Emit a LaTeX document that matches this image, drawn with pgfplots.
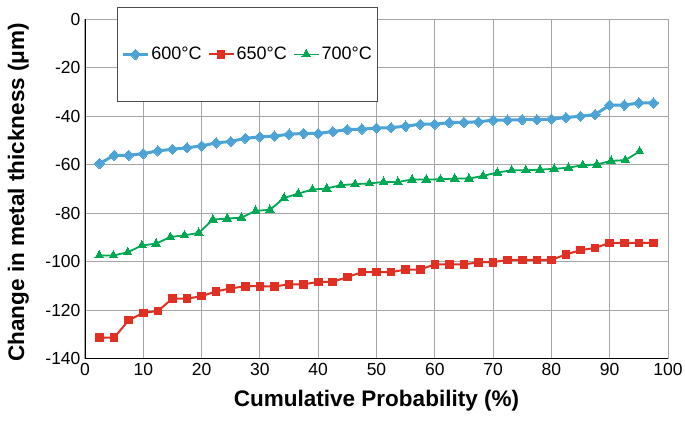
\documentclass[border=0pt]{standalone}
\usepackage{pgfplots}
\pgfplotsset{compat=1.18}
\usepackage{fontspec}
\setmainfont{Liberation Sans}

\definecolor{c600}{RGB}{77,163,214}
\definecolor{c650}{RGB}{224,48,36}
\definecolor{c700}{RGB}{0,168,84}

% 600 C and 650 C: x = 2.5, 5, ..., 97.5
\pgfplotstableread{
x     y
2.5   -59.6
5.0   -56.2
7.5   -56.2
10.0  -55.5
12.5  -54.4
15.0  -53.7
17.5  -53.1
20.0  -52.3
22.5  -51.1
25.0  -50.5
27.5  -49.2
30.0  -48.6
32.5  -48.3
35.0  -47.5
37.5  -47.2
40.0  -47.2
42.5  -46.4
45.0  -45.6
47.5  -45.4
50.0  -45.0
52.5  -44.8
55.0  -44.2
57.5  -43.4
60.0  -43.4
62.5  -42.7
65.0  -42.6
67.5  -42.4
70.0  -41.7
72.5  -41.7
75.0  -41.5
77.5  -41.5
80.0  -41.3
82.5  -40.6
85.0  -40.1
87.5  -39.4
90.0  -35.5
92.5  -35.5
95.0  -34.6
97.5  -34.6
}\tsix

\pgfplotstableread{
x     y
2.5   -131.4
5.0   -131.4
7.5   -124.2
10.0  -121.2
12.5  -120.4
15.0  -115.3
17.5  -115.3
20.0  -114.3
22.5  -112.3
25.0  -111.1
27.5  -110.2
30.0  -110.2
32.5  -110.3
35.0  -109.4
37.5  -109.4
40.0  -108.4
42.5  -108.4
45.0  -106.4
47.5  -104.4
50.0  -104.4
52.5  -104.4
55.0  -103.3
57.5  -103.3
60.0  -101.2
62.5  -101.2
65.0  -101.2
67.5  -100.3
70.0  -100.3
72.5  -99.3
75.0  -99.3
77.5  -99.3
80.0  -99.3
82.5  -97.1
85.0  -95.3
87.5  -94.4
90.0  -92.3
92.5  -92.3
95.0  -92.3
97.5  -92.3
}\tsixfifty

% 700 C: 39 points at i*100/41
\pgfplotstableread{
x       y
2.439   -97.5
4.878   -97.5
7.317   -96.2
9.756   -93.4
12.195  -92.6
14.634  -89.9
17.073  -89.2
19.512  -88.2
21.951  -82.7
24.390  -82.3
26.829  -81.9
29.268  -79.1
31.707  -78.7
34.146  -73.8
36.585  -72.0
39.024  -70.3
41.463  -69.9
43.902  -68.5
46.341  -68.1
48.780  -67.8
51.220  -67.2
53.659  -67.2
56.098  -66.2
58.537  -66.2
60.976  -66.1
63.415  -65.8
65.854  -65.8
68.293  -64.7
70.732  -63.3
73.171  -62.4
75.610  -62.4
78.049  -62.1
80.488  -61.8
82.927  -61.3
85.366  -60.3
87.805  -60.0
90.244  -58.5
92.683  -58.2
95.122  -54.6
}\tseven

\begin{document}
\begin{tikzpicture}
\path[use as bounding box] (-85pt,-62.5pt) rectangle (600pt,358.5pt);
\begin{axis}[
    at={(0pt,0pt)}, anchor=south west,
    scale only axis,
    width=583pt, height=339.5pt,
    xmin=0, xmax=100,
    ymin=-140, ymax=0,
    xtick={0,10,...,100},
    ytick={-140,-120,...,0},
    axis x line*=bottom,
    axis y line*=left,
    axis line style={-, black, line width=0.9pt},
    major tick length=0pt,
    grid=major,
    major grid style={gray!70, line width=1pt},
    /pgf/number format/assume math mode=true,
    tick label style={font=\fontsize{17.5}{17.5}\selectfont},
    xticklabel style={yshift=-1pt},
    yticklabel style={xshift=-1pt},
    xlabel={\bfseries Cumulative Probability (\%)},
    ylabel={\bfseries Change in metal thickness (μm)},
    label style={font=\fontsize{22.5}{23}\selectfont},
    xlabel style={at={(axis description cs:0.5,-0.142)}, anchor=base},
    ylabel style={at={(axis description cs:-0.1046,0.49)}, anchor=base},
    legend columns=3,
    legend image code/.code={
        \draw[mark repeat=2, mark phase=2, #1]
        plot coordinates {(0pt,0pt) (12.5pt,0pt) (25pt,0pt)};},
    legend style={
        at={(axis description cs:0.0549,1.0353)}, anchor=north west,
        draw=black!70, line width=0.8pt, fill=white,
        font=\fontsize{18}{18}\selectfont,
        inner xsep=4pt, inner ysep=38pt,
        /tikz/every even column/.append style={column sep=4pt},
    },
]
\addplot[c600, line width=3pt, mark=diamond*, mark size=5.2pt,
    mark options={solid, line width=0pt, xscale=1.3}] table[x=x, y=y] {\tsix};
\addlegendentry{600°C}
\addplot[c650, line width=2pt, mark=square*, mark size=3.8pt,
    mark options={solid, line width=0pt}] table[x=x, y=y] {\tsixfifty};
\addlegendentry{650°C}
\addplot[c700, line width=1.8pt, mark=triangle*, mark size=5pt,
    mark options={solid, line width=0pt}] table[x=x, y=y] {\tseven};
\addlegendentry{700°C}
\end{axis}
\end{tikzpicture}
\end{document}
